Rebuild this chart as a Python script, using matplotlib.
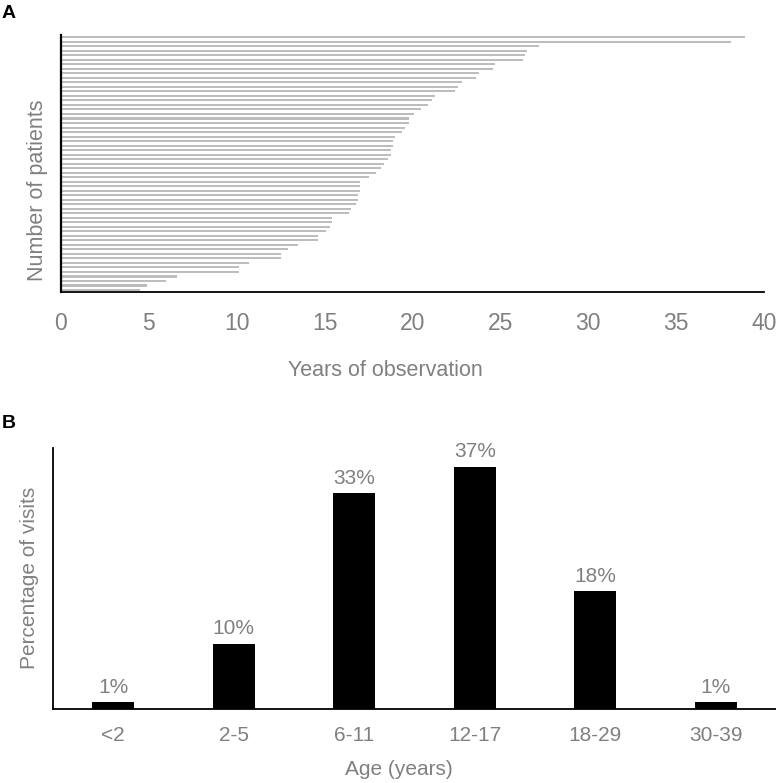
import numpy as np
import matplotlib
matplotlib.use('Agg')
import matplotlib.pyplot as plt

plt.rcParams['font.family'] = ['Liberation Sans', 'DejaVu Sans']

# panel A: years of observation per patient (sorted, shortest first)
years_obs = [4.5, 4.9, 6.0, 6.6, 10.1, 10.1, 10.7, 12.5, 12.5, 12.9,
             13.5, 14.6, 14.6, 15.1, 15.3, 15.4, 15.4, 16.4, 16.5, 16.8,
             16.9, 16.9, 17.0, 17.0, 17.0, 17.5, 17.9, 18.2, 18.4, 18.6,
             18.8, 18.8, 18.9, 18.9, 19.0, 19.4, 19.6, 19.8, 19.8, 20.1,
             20.5, 20.9, 21.1, 21.3, 22.4, 22.6, 22.8, 23.6, 23.8, 24.6,
             24.7, 26.3, 26.4, 26.5, 27.2, 38.1, 38.9]
x_ticks_a = [0, 5, 10, 15, 20, 25, 30, 35, 40]

# panel B: percentage of visits by age group
age_groups = ['<2', '2-5', '6-11', '12-17', '18-29', '30-39']
visit_pct = [1, 10, 33, 37, 18, 1]

grey = '#808080'

fig = plt.figure(figsize=(7.76, 7.83), dpi=100)

# --- panel A
ax1 = fig.add_axes([0.0786, 0.627, 0.906, 0.3283])
pos = np.arange(len(years_obs))
ax1.barh(pos, years_obs, height=0.45, color='#bdbdbd', left=0)
ax1.set_xlim(0, 40)
ax1.set_ylim(-0.45, len(years_obs) - 0.5)
ax1.set_xticks(x_ticks_a)
ax1.set_yticks([])
ax1.tick_params(axis='x', length=0, labelsize=16.5, labelcolor=grey, pad=14)
for s in ['top', 'right']:
    ax1.spines[s].set_visible(False)
ax1.spines['left'].set_linewidth(1.6)
ax1.spines['bottom'].set_linewidth(1.3)
ax1.set_xlabel('Years of observation', fontsize=15.5, color=grey, labelpad=18, x=0.461)
ax1.set_ylabel('Number of patients', fontsize=15.5, color=grey, labelpad=9, y=0.397)

# --- panel B
ax2 = fig.add_axes([0.0683, 0.0945, 0.9317, 0.3337])
xb = np.arange(len(age_groups))
bars = ax2.bar(xb, visit_pct, width=0.35, color='black')
for b, v in zip(bars, visit_pct):
    ax2.annotate(f'{v}%', (b.get_x() + b.get_width() / 2, b.get_height()),
                 xytext=(0, 4.2), textcoords='offset points',
                 ha='center', va='bottom', fontsize=15, color=grey)
ax2.set_xlim(-0.5, len(age_groups) - 0.5)
ax2.set_ylim(0, 40)
ax2.set_xticks(xb)
ax2.set_xticklabels(age_groups)
ax2.set_yticks([])
ax2.tick_params(axis='x', length=0, labelsize=15, labelcolor=grey, pad=12)
for s in ['top', 'right']:
    ax2.spines[s].set_visible(False)
ax2.spines['left'].set_linewidth(1.3)
ax2.spines['bottom'].set_linewidth(1.3)
ax2.set_xlabel('Age (years)', fontsize=15, color=grey, labelpad=11, x=0.478)
ax2.set_ylabel('Percentage of visits', fontsize=15, color=grey, labelpad=10)

fig.text(0.002, 0.9936, 'A', fontsize=14, fontweight='bold', va='top')
fig.text(0.002, 0.4695, 'B', fontsize=14, fontweight='bold', va='top')

fig.savefig('out.png', dpi=100)
